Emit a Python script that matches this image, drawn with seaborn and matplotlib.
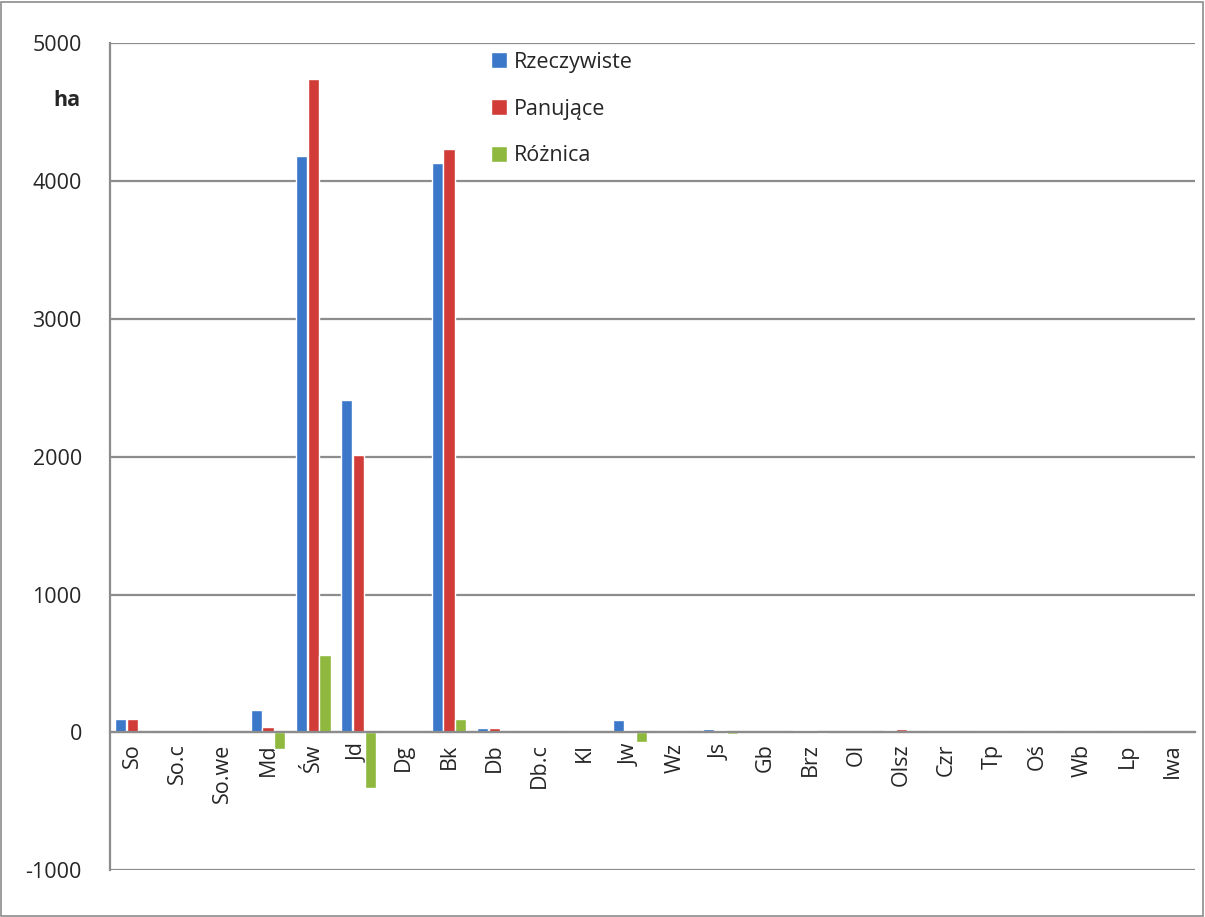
import numpy as np
import pandas as pd
import matplotlib
matplotlib.use("Agg")
import matplotlib.pyplot as plt
import seaborn as sns

sns.set_style("white")
plt.rcParams['font.family'] = ['Open Sans', 'DejaVu Sans']

categories = ["So", "So.c", "So.we", "Md", "Św", "Jd", "Dg", "Bk", "Db", "Db.c", "Kl", "Jw",
              "Wz", "Js", "Gb", "Brz", "Ol", "Olsz", "Czr", "Tp", "Oś", "Wb", "Lp", "Iwa"]
rzeczywiste = [100, 5, 5, 160, 4180, 2410, 10, 4130, 30, 5, 5, 90,
               5, 25, 10, 20, 10, 20, 5, 5, 5, 5, 5, 5]
panujace = [100, 5, 0, 40, 4740, 2010, 10, 4230, 30, 0, 0, 20,
            0, 15, 10, 15, 10, 25, 0, 5, 5, 5, 5, 0]
roznica = [0, 5, 5, -120, 560, -400, 5, 100, 5, 5, 5, -70,
           5, -10, 5, -5, 5, 5, 5, 5, 5, 5, 5, 5]
series = ["Rzeczywiste", "Panujące", "Różnica"]
colors = ["#3b78c9", "#d23c38", "#8fb83e"]

df = pd.DataFrame({
    "kat": categories * 3,
    "seria": [series[0]] * len(categories) + [series[1]] * len(categories) + [series[2]] * len(categories),
    "ha": rzeczywiste + panujace + roznica,
})

fig = plt.figure(figsize=(12.05, 9.17), dpi=100)
ax = fig.add_axes([0.091, 0.051, 0.901, 0.902])

sns.barplot(data=df, x="kat", y="ha", hue="seria", palette=colors, order=categories,
            width=0.78, gap=0.05, ax=ax, saturation=1)

ax.set_ylim(-1000, 5000)
ax.set_xlim(-0.5, len(categories) - 0.5)
ax.set_yticks(np.arange(-1000, 5001, 1000))
ax.set_yticklabels([str(v) for v in range(-1000, 5001, 1000)], fontsize=15.5)
ax.yaxis.grid(True, color="#8c8c8c", linewidth=1.6)
ax.set_axisbelow(True)
for s in ["top", "right"]:
    ax.spines[s].set_visible(False)
ax.spines["left"].set_color("#8c8c8c")
ax.spines["left"].set_linewidth(1.6)
ax.spines["bottom"].set_position(("data", 0))
ax.spines["bottom"].set_color("#8c8c8c")
ax.spines["bottom"].set_linewidth(1.6)
ax.tick_params(axis="y", length=6, color="#8c8c8c", width=1.3, pad=14)

ax.set_xticks(range(len(categories)))
ax.set_xticklabels(categories, rotation=90, fontsize=15.5)
ax.tick_params(axis="x", which="major", length=0, pad=8)
ax.set_xticks(np.arange(0.5, len(categories) - 0.5 + 0.01, 1), minor=True)
ax.tick_params(axis="x", which="minor", length=8, color="#8c8c8c", width=1.6, direction="out")
ax.set_xlabel("")
ax.set_ylabel("")

ax.text(-0.039, 0.931, "ha", transform=ax.transAxes, fontsize=15.5, fontweight="bold",
        ha="center", va="center")

ax.legend(loc="upper left", bbox_to_anchor=(0.333, 1.013), frameon=False, fontsize=15.5,
          labelspacing=1.2, handlelength=0.75, handleheight=0.75, handletextpad=0.35)

fig.patches.append(plt.Rectangle((0.001, 0.001), 0.997, 0.997, transform=fig.transFigure,
                                 fill=False, edgecolor="#8c8c8c", linewidth=1.2))

fig.savefig("out.png", dpi=100)
